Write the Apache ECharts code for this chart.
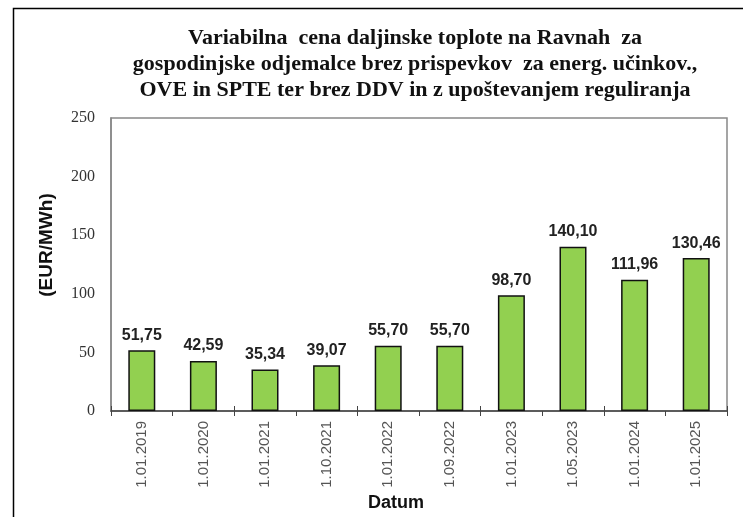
<!DOCTYPE html>
<html>
<head>
<meta charset="utf-8">
<script src="https://cdn.jsdelivr.net/npm/echarts@6/dist/echarts.min.js"></script>
<style>
  html, body { margin: 0; padding: 0; background: #fff; }
  #chart { width: 743px; height: 517px; }
</style>
</head>
<body>
<div id="chart"></div>
<script>
var categories = ['1.01.2019', '1.01.2020', '1.01.2021', '1.10.2021', '1.01.2022',
  '1.09.2022', '1.01.2023', '1.05.2023', '1.01.2024', '1.01.2025'];
var prices = [51.75, 42.59, 35.34, 39.07, 55.70, 55.70, 98.70, 140.10, 111.96, 130.46];
var yTicks = [0, 50, 100, 150, 200, 250];

var chart = echarts.init(document.getElementById('chart'));
chart.setOption({
  backgroundColor: '#fff',
  animation: false,
  title: {
    text: 'Variabilna  cena daljinske toplote na Ravnah  za\ngospodinjske odjemalce brez prispevkov  za energ. učinkov.,\nOVE in SPTE ter brez DDV in z upoštevanjem reguliranja',
    left: 410,
    top: 20,
    textAlign: 'center',
    textStyle: {
      fontFamily: 'Liberation Serif',
      fontWeight: 'bold',
      fontSize: 22,
      lineHeight: 26,
      color: '#111'
    }
  },
  graphic: [{
    type: 'rect',
    shape: { x: 13.5, y: 8.5, width: 760, height: 540 },
    style: { fill: 'none', stroke: '#000', lineWidth: 1.5 },
    silent: true
  }, {
    // y axis name
    type: 'text',
    x: 47,
    y: 245,
    rotation: Math.PI / 2,
    style: {
      text: '(EUR/MWh)',
      fontFamily: 'Liberation Sans',
      fontWeight: 'bold',
      fontSize: 19,
      fill: '#111',
      align: 'center',
      verticalAlign: 'middle'
    }
  }, {
    // x axis name
    type: 'text',
    x: 396,
    y: 503,
    style: {
      text: 'Datum',
      fontFamily: 'Liberation Sans',
      fontWeight: 'bold',
      fontSize: 18,
      fill: '#111',
      align: 'center',
      verticalAlign: 'middle'
    }
  }],
  grid: { left: 111, right: 16, top: 118, bottom: 106, show: true, borderColor: '#888', borderWidth: 1.5 },
  xAxis: [{
    type: 'category',
    data: categories,
    axisLine: { lineStyle: { color: '#444', width: 1.5 } },
    axisTick: { show: true, length: 5, lineStyle: { color: '#444' } },
    axisLabel: {
      rotate: 90,
      margin: 10,
      fontFamily: 'Liberation Sans',
      fontSize: 15,
      color: '#555'
    }
  }, {
    // inner half of the crossing ticks
    type: 'category',
    data: categories,
    position: 'bottom',
    axisLine: { show: false },
    axisTick: { show: true, inside: true, length: 5, lineStyle: { color: '#444' } },
    axisLabel: { show: false }
  }],
  yAxis: {
    type: 'value',
    min: 0,
    max: 250,
    interval: 50,
    axisLine: { show: true, lineStyle: { color: '#888', width: 1.5 } },
    axisTick: { show: false },
    splitLine: { show: false },
    axisLabel: {
      margin: 16,
      fontFamily: 'Liberation Serif',
      fontSize: 16,
      color: '#333',
      formatter: function(v) { return yTicks.indexOf(v) >= 0 ? String(v) : ''; }
    }
  },
  series: [{
    type: 'bar',
    data: prices,
    barWidth: 27,
    itemStyle: { color: '#92D050', borderColor: '#111', borderWidth: 1.5 },
    label: {
      show: true,
      position: 'top',
      distance: 7,
      fontFamily: 'Liberation Sans',
      fontWeight: 'bold',
      fontSize: 16,
      color: '#222',
      formatter: function(p) { return p.value.toFixed(2).replace('.', ','); }
    }
  }]
});
</script>
</body>
</html>
